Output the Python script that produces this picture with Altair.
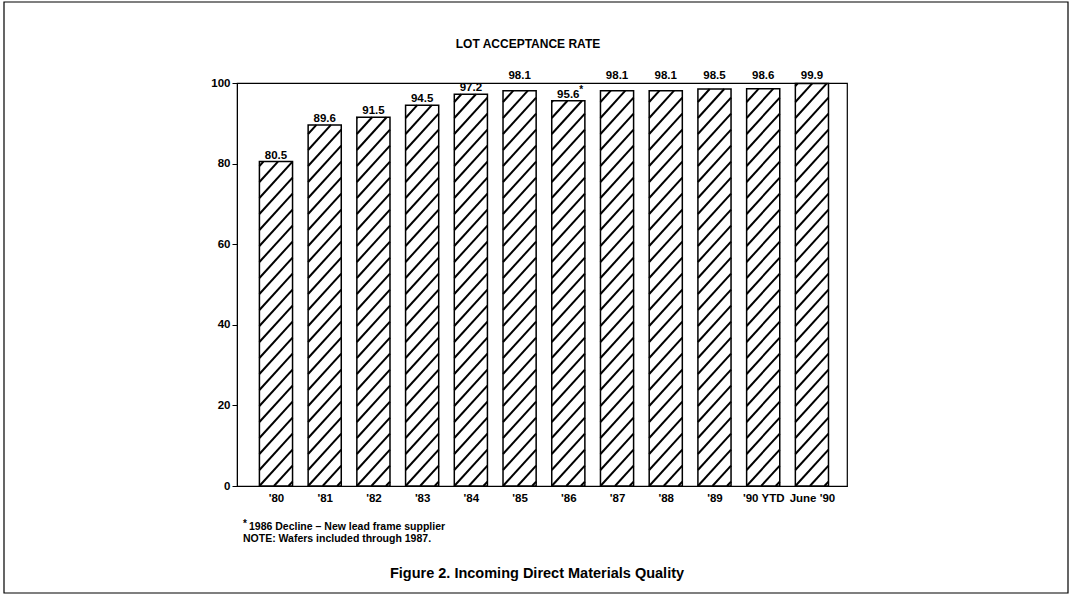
import json
import altair as alt
import pandas as pd

# ---------------- data ----------------
categories = ["'80", "'81", "'82", "'83", "'84", "'85", "'86", "'87", "'88", "'89", "'90 YTD", "June '90"]
rates = [80.5, 89.6, 91.5, 94.5, 97.2, 98.1, 95.6, 98.1, 98.1, 98.5, 98.6, 99.9]
notes = ["", "", "", "", "", "", "*", "", "", "", "", ""]
y_ticks = [0, 20, 40, 60, 80, 100]
chart_title = "LOT ACCEPTANCE RATE"
footnote_1 = "1986 Decline \u2013 New lead frame supplier"
footnote_2 = "NOTE: Wafers included through 1987."
caption = "Figure 2.  Incoming Direct Materials Quality"

# ---------------- layout ----------------
W, H = 610, 403
PAD_L, PAD_T = 237, 83
X_MIN, X_MAX = -0.8, 11.72
BAR_W = 0.68                     # bar width in x units
PX_X = W / (X_MAX - X_MIN)
PX_Y = H / 100.0
FONT = "Liberation Sans Narrow, Liberation Sans, Arial"

bars = pd.DataFrame({
    "idx": list(range(len(categories))),
    "cat": categories,
    "rate": rates,
    "note": notes,
})
bars["label"] = bars["rate"].map(lambda v: f"{v:.1f}")

# hatch segments ("/" pattern) derived from each bar's value
rise_u = (BAR_W * PX_X * 1.1) / PX_Y     # rise across a bar, y units
spacing_u = 16 / PX_Y                    # vertical spacing, y units
slope = rise_u / BAR_W
rows = []
for i, v in enumerate(rates):
    xl = i - BAR_W / 2
    xr = i + BAR_W / 2
    k = -int(rise_u / spacing_u) - 1
    while k * spacing_u < v:
        c = k * spacing_u
        k += 1
        if c >= 0:
            x0, y0 = xl, c
        else:
            x0, y0 = xl + (-c) / slope, 0.0
        if x0 >= xr:
            continue
        if c + rise_u <= v:
            x1, y1 = xr, c + rise_u
        else:
            x1, y1 = xl + (v - c) / slope, v
        if y0 >= v:
            continue
        rows.append({"hx": x0, "hy": y0, "hx2": x1, "hy2": y1})
hatch = pd.DataFrame(rows)

xscale = alt.Scale(domain=[X_MIN, X_MAX], nice=False, zero=False)
yscale = alt.Scale(domain=[0, 100], nice=False)

label_expr = json.dumps(categories) + "[datum.value]"

x_axis = alt.Axis(values=list(range(len(categories))), labelExpr=label_expr, ticks=False,
                  grid=False, title=None, domainColor="black", labelColor="black",
                  labelFont=FONT, labelFontSize=11.5, labelFontWeight="bold", labelPadding=6,
                  labelBaseline="top")
y_axis = alt.Axis(values=y_ticks, grid=False, title=None, domainColor="black", tickColor="black",
                  tickSize=5, labelColor="black", labelFont=FONT, labelFontSize=11.5,
                  labelFontWeight="bold", labelPadding=2)

base = alt.Chart(bars).transform_calculate(
    xl=f"datum.idx - {BAR_W / 2}",
    xr=f"datum.idx + {BAR_W / 2}",
    label_y="datum.rate >= 98 ? 100.25 : datum.rate",
)

bar_fill = base.mark_rect(fill="white").encode(
    x=alt.X("xl:Q", scale=xscale, axis=x_axis),
    x2="xr:Q",
    y=alt.Y("rate:Q", scale=yscale, axis=y_axis),
    y2=alt.datum(0),
)

hatch_layer = alt.Chart(hatch).mark_rule(color="black", strokeWidth=2, strokeCap="butt").encode(
    x=alt.X("hx:Q", scale=xscale),
    x2="hx2:Q",
    y=alt.Y("hy:Q", scale=yscale),
    y2="hy2:Q",
)

bar_outline = base.mark_rect(fillOpacity=0, stroke="black", strokeWidth=1.5).encode(
    x=alt.X("xl:Q", scale=xscale),
    x2="xr:Q",
    y=alt.Y("rate:Q", scale=yscale),
    y2=alt.datum(0),
)

value_labels = base.mark_text(font=FONT, fontSize=11.5, fontWeight="bold", color="black",
                              baseline="alphabetic", dy=-3).encode(
    x=alt.X("idx:Q", scale=xscale),
    y=alt.Y("label_y:Q", scale=yscale),
    text="label:N",
)

note_marks = base.mark_text(font=FONT, fontSize=10, fontWeight="bold", color="black",
                            baseline="alphabetic", dx=13, dy=-8).encode(
    x=alt.X("idx:Q", scale=xscale),
    y=alt.Y("label_y:Q", scale=yscale),
    text="note:N",
)

one = pd.DataFrame({"k": [0]})

title_layer = alt.Chart(one).mark_text(text=chart_title, font=FONT, fontSize=12,
                                        fontWeight="bold", color="black", align="center",
                                        baseline="alphabetic").encode(
    x=alt.value(528 - PAD_L), y=alt.value(48 - PAD_T))

foot_star = alt.Chart(one).mark_text(text="*", font=FONT, fontSize=10, fontWeight="bold",
                                      color="black", align="left", baseline="alphabetic").encode(
    x=alt.value(243 - PAD_L), y=alt.value(527 - PAD_T))
foot_1 = alt.Chart(one).mark_text(text=footnote_1, font=FONT, fontSize=10.5, fontWeight="bold",
                                   color="black", align="left", baseline="alphabetic").encode(
    x=alt.value(249 - PAD_L), y=alt.value(530 - PAD_T))
foot_2 = alt.Chart(one).mark_text(text=footnote_2, font=FONT, fontSize=10.5, fontWeight="bold",
                                   color="black", align="left", baseline="alphabetic").encode(
    x=alt.value(243 - PAD_L), y=alt.value(542 - PAD_T))
cap_layer = alt.Chart(one).mark_text(text=caption, font=FONT, fontSize=14.5, fontWeight="bold",
                                      color="black", align="center", baseline="alphabetic").encode(
    x=alt.value(537 - PAD_L), y=alt.value(578 - PAD_T))

frame = alt.Chart(one).mark_rect(fillOpacity=0, stroke="black", strokeWidth=1.2).encode(
    x=alt.value(4 - PAD_L), x2=alt.value(1068 - PAD_L),
    y=alt.value(2 - PAD_T), y2=alt.value(593 - PAD_T))

chart = alt.layer(
    bar_fill, hatch_layer, bar_outline, value_labels, note_marks,
    title_layer, foot_star, foot_1, foot_2, cap_layer, frame,
).properties(
    width=W, height=H,
    autosize=alt.AutoSizeParams(type="none"),
    padding={"left": PAD_L, "top": PAD_T, "right": 1073 - PAD_L - W, "bottom": 596 - PAD_T - H},
    background="white",
).configure_view(stroke="black", strokeWidth=1.2)

chart.save("out.html", embed_options={"renderer": "svg", "actions": False})
